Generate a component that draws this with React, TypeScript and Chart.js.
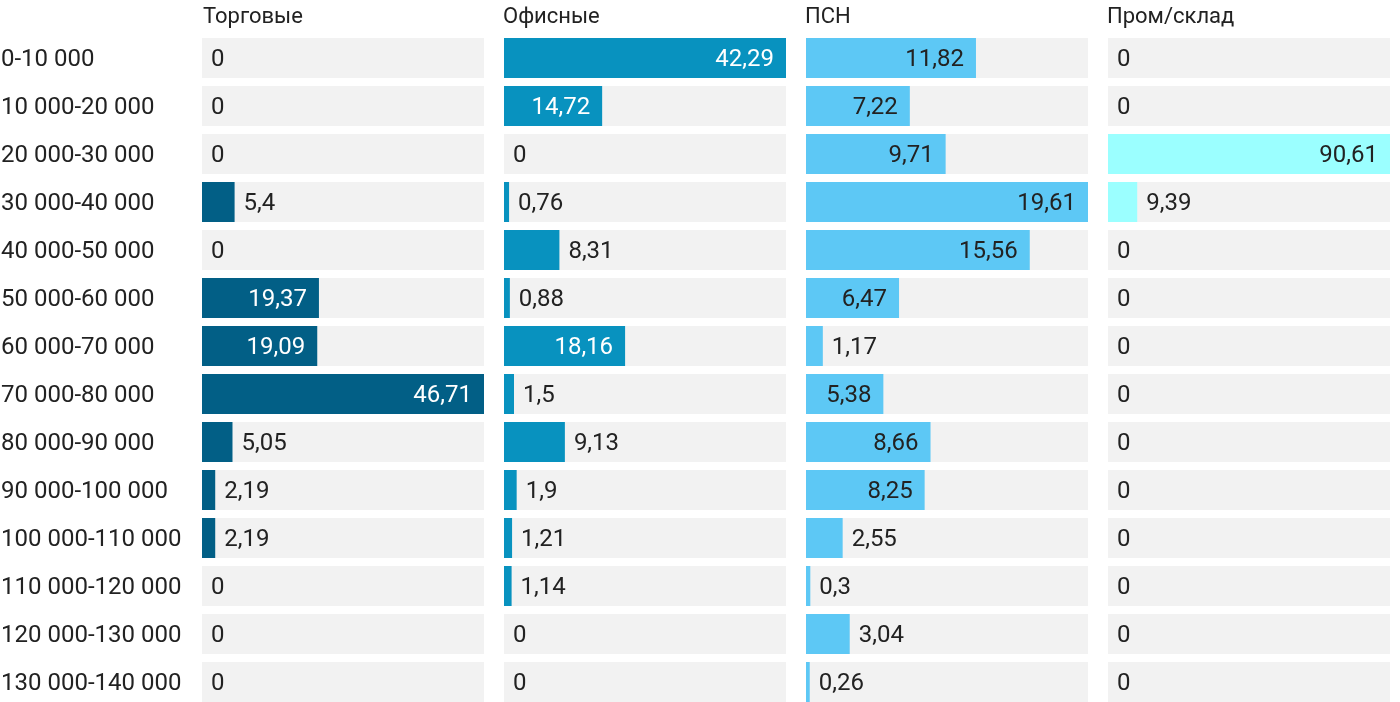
import React, { useEffect, useRef } from 'react';
import { Chart, registerables } from 'chart.js';

Chart.register(...registerables);

const categories = [
  '0-10 000',
  '10 000-20 000',
  '20 000-30 000',
  '30 000-40 000',
  '40 000-50 000',
  '50 000-60 000',
  '60 000-70 000',
  '70 000-80 000',
  '80 000-90 000',
  '90 000-100 000',
  '100 000-110 000',
  '110 000-120 000',
  '120 000-130 000',
  '130 000-140 000',
];

const panelTitles = ['Торговые', 'Офисные', 'ПСН', 'Пром/склад'];

const retailValues = [0, 0, 0, 5.4, 0, 19.37, 19.09, 46.71, 5.05, 2.19, 2.19, 0, 0, 0];
const officeValues = [42.29, 14.72, 0, 0.76, 8.31, 0.88, 18.16, 1.5, 9.13, 1.9, 1.21, 1.14, 0, 0];
const psnValues = [11.82, 7.22, 9.71, 19.61, 15.56, 6.47, 1.17, 5.38, 8.66, 8.25, 2.55, 0.3, 3.04, 0.26];
const warehouseValues = [0, 0, 90.61, 9.39, 0, 0, 0, 0, 0, 0, 0, 0, 0, 0];

const panelColors = ['#025f86', '#0892bf', '#5dc8f5', '#9bffff'];
const insideTextColors = ['#ffffff', '#ffffff', '#222222', '#222222'];

const FONT = 'Roboto';
const TITLE_SIZE = 22;
const LABEL_SIZE = 24;
const TEXT_COLOR = '#222222';
const TRACK_COLOR = '#f2f2f2';

if (typeof document !== 'undefined') {
  document.body.style.margin = '0';
  document.body.style.overflow = 'hidden';
}

const titlePlugin = {
  id: 'panelTitle',
  afterDraw(chart: any, _args: any, opts: any) {
    const { ctx, chartArea } = chart;
    ctx.save();
    ctx.font = `${TITLE_SIZE}px ${FONT}`;
    ctx.fillStyle = TEXT_COLOR;
    ctx.textAlign = 'left';
    ctx.textBaseline = 'alphabetic';
    ctx.fillText(opts.text || '', chartArea.left + (opts.dx || 0), 22.5);
    ctx.restore();
  },
};

const valueLabelPlugin = {
  id: 'valueLabels',
  afterDatasetsDraw(chart: any, _args: any, opts: any) {
    const { ctx } = chart;
    const meta = chart.getDatasetMeta(1);
    const data = chart.data.datasets[1].data as number[];
    const max = chart.scales.x.max;
    ctx.save();
    ctx.font = `${LABEL_SIZE}px ${FONT}`;
    ctx.textBaseline = 'middle';
    meta.data.forEach((el: any, i: number) => {
      const v = data[i];
      const text = String(v).replace('.', ',');
      if (v / max > 0.25) {
        ctx.textAlign = 'right';
        ctx.fillStyle = opts.inside;
        ctx.fillText(text, el.x - 12, el.y + 2);
      } else {
        ctx.textAlign = 'left';
        ctx.fillStyle = TEXT_COLOR;
        ctx.fillText(text, el.x + 9, el.y + 2);
      }
    });
    ctx.restore();
  },
};

type PanelProps = {
  title: string;
  values: number[];
  color: string;
  insideColor: string;
  showCategories: boolean;
  left: number;
  width: number;
};

function Panel({ title, values, color, insideColor, showCategories, left, width }: PanelProps) {
  const ref = useRef<HTMLCanvasElement | null>(null);

  useEffect(() => {
    if (!ref.current) return;
    const max = Math.max(...values);
    const chart = new Chart(ref.current, {
      type: 'bar',
      data: {
        labels: categories,
        datasets: [
          {
            label: 'track',
            data: categories.map(() => max),
            backgroundColor: TRACK_COLOR,
            borderWidth: 0,
            inflateAmount: 0,
            order: 1,
            grouped: false,
            barThickness: 40,
          } as any,
          {
            label: title,
            data: values,
            backgroundColor: color,
            borderWidth: 0,
            inflateAmount: 0,
            order: 0,
            grouped: false,
            barThickness: 40,
          } as any,
        ],
      },
      options: {
        indexAxis: 'y',
        animation: false,
        responsive: true,
        maintainAspectRatio: false,
        layout: { padding: { top: 34, left: showCategories ? 1 : 0, right: 0, bottom: 0 } },
        events: [],
        scales: {
          x: {
            display: false,
            min: 0,
            max: max,
            grid: { display: false },
          },
          y: {
            display: showCategories,
            grid: { display: false },
            border: { display: false },
            ticks: {
              crossAlign: 'far',
              padding: 0,
              labelOffset: 2,
              color: TEXT_COLOR,
              font: { family: FONT, size: LABEL_SIZE },
            },
            afterFit: (scale: any) => {
              scale.width = showCategories ? 201 : 0;
              scale.paddingTop = 0;
              scale.paddingBottom = 0;
            },
          },
        },
        plugins: {
          legend: { display: false },
          tooltip: { enabled: false },
          panelTitle: { text: title, dx: showCategories ? 1 : -1 },
          valueLabels: { inside: insideColor },
        } as any,
      },
      plugins: [titlePlugin, valueLabelPlugin],
    });
    return () => chart.destroy();
  }, [title, values, color, insideColor, showCategories]);

  return (
    <div style={{ position: 'absolute', left, top: 0, width, height: 706 }}>
      <canvas ref={ref} />
    </div>
  );
}

export default function App() {
  const series = [retailValues, officeValues, psnValues, warehouseValues];
  const lefts = [0, 504, 806, 1108];
  const widths = [484, 282, 282, 282];
  return (
    <div style={{ position: 'relative', width: 1400, height: 702, overflow: 'hidden', background: '#ffffff' }}>
      {series.map((vals, i) => (
        <Panel
          key={i}
          title={panelTitles[i]}
          values={vals}
          color={panelColors[i]}
          insideColor={insideTextColors[i]}
          showCategories={i === 0}
          left={lefts[i]}
          width={widths[i]}
        />
      ))}
    </div>
  );
}
